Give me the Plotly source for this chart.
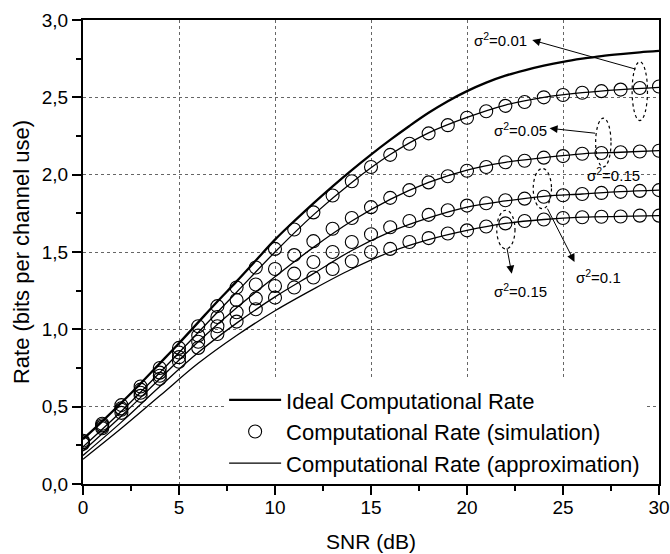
import plotly.graph_objects as go

snr = list(range(0, 31))

ideal = [0.29, 0.405, 0.525, 0.65, 0.78, 0.91, 1.045, 1.18, 1.31, 1.445, 1.58,
         1.70, 1.815, 1.925, 2.03, 2.13, 2.225, 2.315, 2.40, 2.475, 2.54,
         2.595, 2.64, 2.675, 2.705, 2.73, 2.75, 2.767, 2.78, 2.791, 2.80]

sim_001 = [0.28, 0.39, 0.51, 0.63, 0.75, 0.88, 1.02, 1.15, 1.27, 1.40, 1.52,
           1.645, 1.756, 1.865, 1.957, 2.05, 2.128, 2.20, 2.267, 2.32, 2.368,
           2.41, 2.445, 2.47, 2.50, 2.515, 2.53, 2.54, 2.55, 2.56, 2.57]
sim_005 = [0.27, 0.38, 0.49, 0.61, 0.72, 0.85, 0.96, 1.08, 1.19, 1.29, 1.39,
           1.48, 1.57, 1.65, 1.72, 1.79, 1.85, 1.90, 1.95, 1.99, 2.025,
           2.05, 2.08, 2.09, 2.11, 2.12, 2.135, 2.14, 2.145, 2.15, 2.155]
sim_010 = [0.27, 0.37, 0.48, 0.59, 0.70, 0.82, 0.92, 1.02, 1.11, 1.20, 1.28,
           1.36, 1.435, 1.50, 1.565, 1.615, 1.66, 1.70, 1.74, 1.77, 1.80,
           1.815, 1.835, 1.845, 1.857, 1.867, 1.875, 1.882, 1.889, 1.895, 1.90]
sim_015 = [0.26, 0.36, 0.46, 0.57, 0.68, 0.79, 0.88, 0.97, 1.05, 1.13, 1.205,
           1.27, 1.335, 1.39, 1.44, 1.50, 1.52, 1.565, 1.59, 1.62, 1.64,
           1.665, 1.685, 1.70, 1.71, 1.72, 1.725, 1.728, 1.73, 1.735, 1.735]

snr_approx = list(range(0, 31, 2))
app_001 = [0.24, 0.47, 0.72, 0.98, 1.24, 1.50, 1.74, 1.95, 2.13, 2.27, 2.37, 2.45, 2.50, 2.53, 2.55, 2.565]
app_005 = [0.213, 0.44, 0.68, 0.92, 1.14, 1.34, 1.53, 1.70, 1.84, 1.95, 2.03, 2.08, 2.11, 2.135, 2.145, 2.155]
app_010 = [0.185, 0.40, 0.63, 0.85, 1.04, 1.21, 1.36, 1.51, 1.63, 1.72, 1.79, 1.83, 1.86, 1.875, 1.89, 1.90]
app_015 = [0.16, 0.36, 0.57, 0.78, 0.96, 1.12, 1.26, 1.39, 1.50, 1.58, 1.64, 1.685, 1.71, 1.725, 1.73, 1.735]

x_ticks = [0, 5, 10, 15, 20, 25, 30]
y_ticks = [0.0, 0.5, 1.0, 1.5, 2.0, 2.5, 3.0]

FONT = "Liberation Sans, Arial, sans-serif"

fig = go.Figure()

fig.add_trace(go.Scatter(x=snr, y=ideal, mode="lines", line=dict(color="black", width=2.3, shape="spline"),
                         name="Ideal Computational Rate"))

sims = [sim_001, sim_005, sim_010, sim_015]
for i, s in enumerate(sims):
    fig.add_trace(go.Scatter(x=snr, y=s, mode="markers",
                             marker=dict(symbol="circle-open", size=13, color="black", line=dict(width=1.1)),
                             name="Computational Rate (simulation)", showlegend=(i == 0)))

apps = [app_001, app_005, app_010, app_015]
for i, a in enumerate(apps):
    fig.add_trace(go.Scatter(x=snr_approx, y=a, mode="lines", line=dict(color="black", width=1.3, shape="spline"),
                             name="Computational Rate (approximation)", showlegend=(i == 0)))

# dotted ellipses
ellipses = [(28.6, 29.4, 2.35, 2.73), (26.7, 27.5, 2.05, 2.365), (23.45, 24.4, 1.78, 2.04), (21.55, 22.5, 1.52, 1.77)]
for x0, x1, y0, y1 in ellipses:
    fig.add_shape(type="circle", xref="x", yref="y", x0=x0, x1=x1, y0=y0, y1=y1,
                  line=dict(color="black", width=1.2, dash="dot"))

# arrows (head at x,y; tail at ax,ay)
arrows = [(23.4, 2.87, 28.85, 2.68), (24.3, 2.30, 26.75, 2.267), (25.6, 1.436, 24.15, 1.79), (22.33, 1.36, 22.07, 1.533)]
for hx, hy, tx, ty in arrows:
    fig.add_annotation(x=hx, y=hy, ax=tx, ay=ty, xref="x", yref="y", axref="x", ayref="y",
                       text="", showarrow=True, arrowhead=2, arrowsize=1.6, arrowwidth=1, arrowcolor="black",
                       standoff=0, startstandoff=0)

labels = [("σ<sup>2</sup>=0.01", 21.75, 2.875), ("σ<sup>2</sup>=0.05", 22.8, 2.295),
          ("σ<sup>2</sup>=0.15", 27.65, 2.0), ("σ<sup>2</sup>=0.1", 26.85, 1.34),
          ("σ<sup>2</sup>=0.15", 22.8, 1.253)]
for t, lx, ly in labels:
    fig.add_annotation(x=lx, y=ly, xref="x", yref="y", text=t, showarrow=False,
                       font=dict(family=FONT, size=15, color="black"), xanchor="center", yanchor="middle")

fig.update_layout(
    width=670, height=554,
    margin=dict(l=83, r=11, t=20, b=70, autoexpand=False),
    paper_bgcolor="white", plot_bgcolor="white",
    separators=",.",
    font=dict(family=FONT, size=19, color="black"),
    showlegend=True,
    legend=dict(x=0.245, y=0.226, xanchor="left", yanchor="top", bgcolor="white", borderwidth=0,
                font=dict(family=FONT, size=22, color="black"), tracegroupgap=0, itemwidth=52),
    yaxis2=dict(overlaying="y", side="right", range=[0, 3], tickvals=y_ticks, ticks="inside", ticklen=9,
                tickwidth=1.5, tickcolor="black", showticklabels=False, showgrid=False, zeroline=False,
                showline=False, automargin=False,
                minor=dict(dtick=0.25, ticks="inside", ticklen=5, tickwidth=1.5, tickcolor="black", showgrid=False)),
)
fig.update_xaxes(range=[0, 30], tickvals=x_ticks, ticks="outside", ticklen=9, tickwidth=1.5, tickcolor="black",
                 showline=True, linewidth=2, linecolor="black", mirror=True, automargin=False,
                 showgrid=True, gridcolor="#666", griddash="dot", gridwidth=1, zeroline=False,
                 ticklabelstandoff=-4,
                 minor=dict(dtick=2.5, ticks="outside", ticklen=5, tickwidth=1.5, tickcolor="black", showgrid=False),
                 title=dict(text="SNR (dB)", font=dict(family=FONT, size=21), standoff=18),
                 tickfont=dict(family=FONT, size=19))
fig.update_yaxes(selector=dict(overlaying=None), range=[0, 3], tickvals=y_ticks, tickformat=".1f", ticks="outside",
                 ticklen=9, tickwidth=1.5,
                 tickcolor="black", showline=True, linewidth=2, linecolor="black", mirror=True, automargin=False,
                 showgrid=True, gridcolor="#666", griddash="dot", gridwidth=1, zeroline=False,
                 minor=dict(dtick=0.25, ticks="outside", ticklen=5, tickwidth=1.5, tickcolor="black", showgrid=False),
                 title=dict(text="Rate (bits per channel use)", font=dict(family=FONT, size=22), standoff=6),
                 tickfont=dict(family=FONT, size=19))

fig.write_html("out.html", config={"displayModeBar": False},
               post_script="document.body.style.margin='0';document.body.style.padding='0';")
